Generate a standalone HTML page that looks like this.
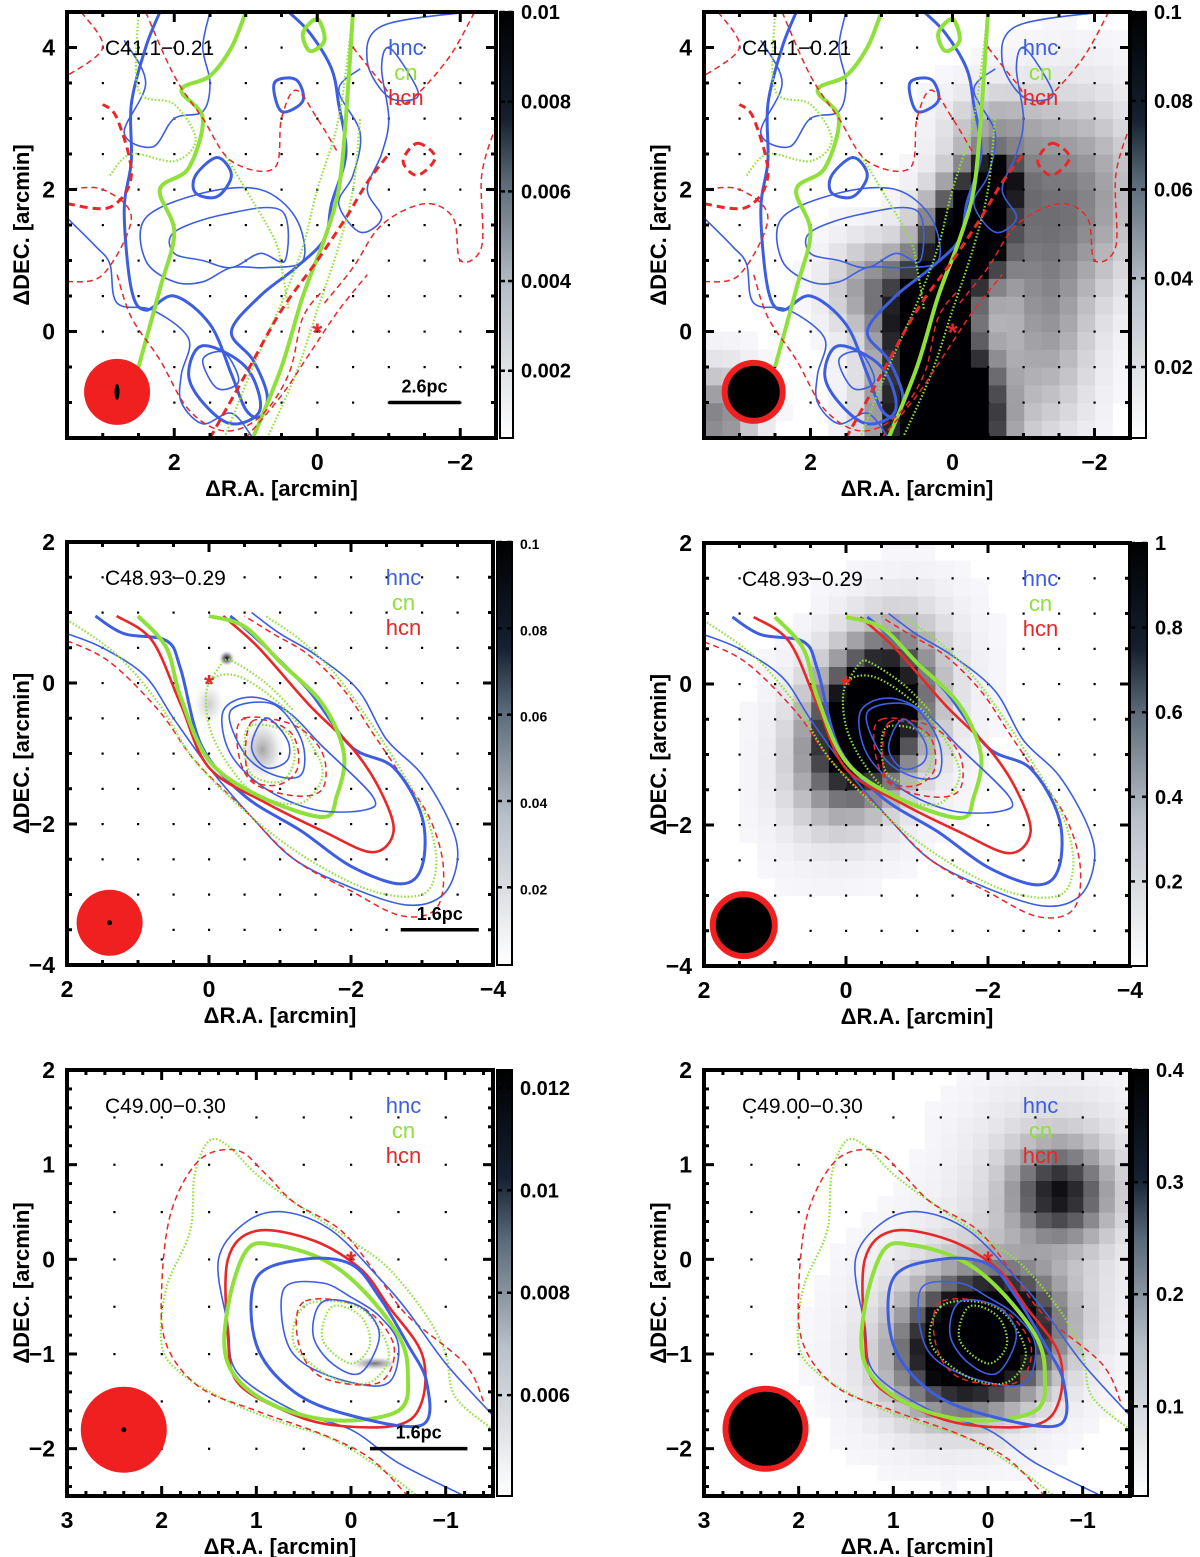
<!DOCTYPE html>
<html><head><meta charset="utf-8">
<style>
html,body{margin:0;padding:0;background:#fff;}
svg{display:block;font-family:"Liberation Sans",Arial,sans-serif;}
</style></head>
<body>
<svg id="fig" width="1200" height="1557" viewBox="0 0 1200 1557" xmlns="http://www.w3.org/2000/svg">
<defs>
<linearGradient id="cbgrad" x1="0" y1="1" x2="0" y2="0">
<stop offset="0" stop-color="#ffffff"/><stop offset="0.35" stop-color="#b8c0c8"/><stop offset="0.6" stop-color="#5a6a78"/><stop offset="0.75" stop-color="#142030"/><stop offset="1" stop-color="#000000"/>
</linearGradient>
<radialGradient id="blob"><stop offset="0" stop-color="#000" stop-opacity="1"/><stop offset="0.5" stop-color="#334" stop-opacity="0.45"/><stop offset="1" stop-color="#fff" stop-opacity="0"/></radialGradient>
</defs>
</svg>
<script>
// ---------- DATA ----------
const xTicksP1 = [2, 0, -2];
const yTicksP1 = [0, 2, 4];
const xTicksP2 = [2, 0, -2, -4];
const yTicksP2 = [-4, -2, 0, 2];
const xTicksP3 = [3, 2, 1, 0, -1];
const yTicksP3 = [-2, -1, 0, 1, 2];

const cbarLabelsP1L = [0.002, 0.004, 0.006, 0.008, 0.01];
const cbarLabelsP1R = [0.02, 0.04, 0.06, 0.08, 0.1];
const cbarLabelsP2L = [0.02, 0.04, 0.06, 0.08, 0.1];
const cbarLabelsP2R = [0.2, 0.4, 0.6, 0.8, 1];
const cbarLabelsP3L = [0.006, 0.008, 0.01, 0.012];
const cbarLabelsP3R = [0.1, 0.2, 0.3, 0.4];
const cbarRangeP1L = [0.0005, 0.01];
const cbarRangeP1R = [0.004, 0.1];
const cbarRangeP2L = [0.002, 0.1];
const cbarRangeP2R = [0.0, 1.0];
const cbarRangeP3L = [0.00403, 0.01235];
const cbarRangeP3R = [0.02, 0.4];

// gaussian components [cx, cy, sx, sy, theta, amp] (arcmin, map units)
const gaussP1R = [[0.15,-1.2,0.45,0.6,0,0.3],[0.35,0.1,0.35,0.5,0,0.2],[-0.2,1.3,0.35,0.5,0.3,0.2],[-0.55,2.1,0.25,0.25,0,0.12],[-1.6,1.9,0.6,0.8,0,0.04],[-1.3,0.3,0.4,1.0,0,0.03],[1.1,0.6,0.35,0.4,0,0.035],[3.3,-1.2,0.3,0.4,0,0.04],[-0.6,2.8,0.4,0.35,0,0.025]];
const gaussP2R = [[-0.3,-0.5,0.4,0.65,0.4,2.0],[-0.35,-0.6,0.6,0.9,0.4,0.2]];
const gaussP3R = [[0.1,-0.85,0.45,0.35,-0.5,0.9],[0.1,-0.7,0.65,0.55,-0.5,0.1],[-0.75,0.7,0.3,0.3,0,0.32],[-0.7,0.8,0.55,0.6,0,0.05]];
// smooth blobs [cx, cy, rx, ry, opacity]
const blobsP2L = [[-0.25,0.35,0.12,0.12,1],[-0.75,-0.95,0.35,0.5,0.35],[0.0,-0.3,0.25,0.35,0.2]];
const blobsP3L = [[-0.25,-1.1,0.3,0.08,0.55]];

// contours: style, closed, points (arcmin)
const contoursC41 = [
 ['b2',0,[[2.2,4.5],[2.4,4.0],[2.6,3.2],[2.6,2.4],[2.7,1.7],[2.6,0.6],[2.4,0.3],[2.0,0.5],[1.5,0.1],[1.2,-0.6],[1.0,-1.1],[0.8,-1.2],[0.7,-0.9],[0.9,-0.4],[1.2,0.0],[0.8,0.5],[0.3,0.9],[-0.1,1.3],[-0.2,1.8],[-0.4,2.5],[-0.3,3.2],[-0.2,3.7],[0.1,4.2],[0.4,4.5]]],
 ['b1',0,[[3.5,1.6],[3.1,1.2],[2.9,0.95],[2.8,0.4],[2.3,0.3],[1.8,-0.1],[1.9,-0.6],[1.9,-1.0],[1.6,-1.3],[1.2,-1.15],[0.9,-1.5]]],
 ['b1',1,[[2.4,1.6],[1.6,1.95],[0.8,2.0],[0.3,1.6],[0.2,1.0],[0.7,0.9],[1.2,0.9],[1.6,0.7],[2.0,0.7],[2.4,1.0]]],
 ['b1',1,[[2.0,1.4],[1.3,1.65],[0.5,1.7],[0.45,1.0],[0.8,1.1],[1.2,0.9],[1.6,1.0],[2.0,1.1]]],
 ['b2',1,[[1.7,2.2],[1.4,2.45],[1.2,2.2],[1.4,1.9],[1.7,1.95]]],
 ['b2',1,[[0.6,3.5],[0.3,3.55],[0.2,3.25],[0.5,3.1]]],
 ['b2',1,[[1.8,-0.6],[1.6,-0.2],[1.0,-0.5],[0.8,-1.1],[1.2,-1.3],[1.6,-1.0]]],
 ['b1',1,[[1.6,-0.4],[1.3,-0.3],[1.1,-0.7],[1.4,-0.8]]],
 ['b1',0,[[2.7,4.1],[2.4,3.5],[2.7,2.8],[2.3,2.6],[2.0,3.0],[1.6,3.1],[1.5,3.5],[1.6,4.0],[1.5,4.5]]],
 ['b1',0,[[-0.6,3.7],[-0.3,3.4],[-0.6,2.8],[-0.5,2.2],[-0.3,1.8],[-0.6,1.4],[-0.9,1.6],[-0.7,2.0],[-0.9,2.5],[-1.0,3.0],[-0.9,3.7],[-1.0,4.0],[-1.3,3.6],[-1.4,3.3],[-1.0,3.3],[-0.7,3.8],[-0.9,4.3],[-2.1,4.5]]],
 ['g2',0,[[0.9,-1.5],[0.5,-0.5],[0.2,0.5],[-0.1,1.3],[-0.3,2.0],[-0.4,3.0],[-0.5,4.5]]],
 ['g2',0,[[2.5,-0.5],[2.2,0.6],[2.0,1.4],[2.2,2.0],[1.8,2.3],[1.6,3.0],[1.9,3.4],[1.5,3.6],[1.2,4.0],[1.0,4.5]]],
 ['g2',1,[[0.2,4.2],[0.1,3.95],[-0.1,4.1],[0.0,4.4]]],
 ['g1',0,[[1.3,-1.5],[0.9,-0.5],[0.5,0.4],[0.2,1.2],[0.0,2.0],[-0.3,3.0],[-0.5,4.5]]],
 ['g1',0,[[2.9,2.2],[2.6,2.5],[2.0,2.4],[1.7,2.7],[2.0,3.2],[2.5,3.4],[2.5,4.5]]],
 ['g1',0,[[1.3,2.5],[1.0,2.0],[0.6,1.3],[0.5,0.9],[0.4,0.3]]],
 ['g1',0,[[0.7,-1.5],[0.3,-0.6],[0.0,0.3],[-0.3,1.2],[-0.5,2.0],[-0.6,3.0]]],
 ['r2',0,[[1.5,-1.5],[1.0,-0.6],[0.5,0.3],[0.0,1.0],[-0.4,1.6],[-0.7,2.1],[-1.0,2.5]]],
 ['r2',1,[[-1.4,2.65],[-1.65,2.45],[-1.4,2.2],[-1.2,2.4]]],
 ['r1',0,[[3.5,0.7],[3.0,0.8],[2.6,1.6],[3.0,2.0],[3.5,2.0]]],
 ['r1',0,[[-0.1,0.4],[-0.5,0.9],[-0.9,1.5],[-1.5,1.8],[-1.9,1.6],[-2.0,1.0],[-2.3,1.2],[-2.3,2.2],[-2.5,2.9]]],
 ['r1',0,[[-0.5,4.0],[-0.9,3.5],[-1.2,3.2],[-1.8,3.8],[-2.2,4.5]]],
 ['r1',0,[[2.8,0.8],[2.6,0.2],[2.2,-0.4],[1.8,-1.1],[1.3,-1.4],[0.8,-1.2],[0.4,-0.6],[0.2,0.2],[-0.1,0.6]]],
 ['r2',0,[[3.5,1.8],[2.9,1.75],[2.6,2.2],[2.8,3.0],[3.0,3.2]]],
 ['r1',0,[[2.4,4.5],[2.0,3.6],[1.6,3.0],[1.2,2.4],[0.6,2.3],[0.5,3.0],[0.3,3.4],[0.0,3.0],[-0.3,2.5]]],
 ['r1',0,[[3.3,4.5],[3.0,4.0],[3.5,3.6]]],
 ['r1',0,[[1.0,-1.5],[0.5,-0.9],[0.1,-0.3],[-0.3,0.3],[-0.7,0.8]]]
];
const contoursC48 = [
 ['b1',0,[[2.0,0.7],[1.5,0.5],[0.9,0.1],[0.5,-0.5],[0.0,-1.2],[-0.6,-1.9],[-1.2,-2.5],[-2.0,-2.9],[-2.8,-3.15],[-3.3,-3.0],[-3.5,-2.5],[-3.4,-2.0],[-3.0,-1.3],[-2.5,-0.8],[-2.1,-0.1],[-1.5,0.4],[-1.0,0.7],[-0.6,1.0]]],
 ['r1',0,[[2.0,0.6],[1.4,0.3],[0.7,-0.4],[0.2,-1.1],[-0.5,-1.8],[-1.2,-2.5],[-2.0,-2.95],[-2.7,-3.3],[-3.2,-3.2],[-3.3,-2.6],[-3.1,-1.9],[-2.7,-1.3],[-2.3,-0.7],[-1.9,-0.1],[-1.4,0.4],[-0.9,0.7],[-0.5,0.95]]],
 ['g1',0,[[2.0,0.9],[1.3,0.4],[0.7,-0.3],[0.2,-1.1],[-0.6,-1.9],[-1.4,-2.5],[-2.3,-2.95],[-3.0,-3.0],[-3.2,-2.6],[-3.1,-2.0],[-2.8,-1.4],[-2.3,-0.6],[-1.8,0.1],[-1.3,0.6],[-0.8,0.95]]],
 ['b2',0,[[1.6,0.95],[1.2,0.7],[0.6,0.6],[0.4,0.2],[0.1,-0.9],[-0.5,-1.6],[-1.3,-2.1],[-2.0,-2.6],[-2.7,-2.85],[-3.0,-2.6],[-3.0,-1.9],[-2.6,-1.2],[-2.0,-0.9],[-1.4,-0.1],[-0.7,0.6],[-0.3,0.95]]],
 ['rs',0,[[1.3,0.95],[0.8,0.6],[0.4,-0.3],[0.0,-1.2],[-0.8,-1.7],[-1.6,-2.1],[-2.3,-2.4],[-2.6,-2.1],[-2.4,-1.5],[-2.0,-0.9],[-1.4,-0.3],[-0.7,0.5],[-0.2,0.95]]],
 ['g2',0,[[1.0,0.95],[0.6,0.5],[0.4,-0.2],[0.0,-1.1],[-0.7,-1.6],[-1.6,-1.9],[-1.8,-1.6],[-1.9,-1.0],[-1.6,-0.3],[-1.0,0.3],[-0.5,0.8],[0.0,0.95]]],
 ['b1',1,[[-0.2,-0.4],[-0.6,-0.2],[-1.1,-0.4],[-1.6,-0.9],[-2.3,-1.6],[-2.2,-1.8],[-1.5,-1.8],[-0.8,-1.5],[-0.3,-1.0]]],
 ['g1',1,[[0.0,0.0],[-0.4,0.1],[-1.0,-0.3],[-1.4,-0.8],[-1.6,-1.3],[-1.3,-1.7],[-0.7,-1.6],[-0.3,-1.2],[0.0,-0.6]]],
 ['r1',1,[[-0.5,-0.5],[-1.2,-0.6],[-1.6,-1.0],[-1.6,-1.5],[-1.2,-1.6],[-0.6,-1.4],[-0.4,-0.9]]],
 ['b1',1,[[-0.3,-0.4],[-0.9,-0.3],[-1.3,-0.8],[-1.3,-1.3],[-0.9,-1.3],[-0.5,-1.0]]],
 ['g1',1,[[-0.6,-0.6],[-1.1,-0.7],[-1.2,-1.1],[-1.0,-1.4],[-0.6,-1.3],[-0.5,-0.9]]],
 ['r1',1,[[-0.6,-0.55],[-1.15,-0.7],[-1.25,-1.2],[-0.95,-1.45],[-0.55,-1.3]]],
 ['b1',1,[[-0.8,-0.5],[-1.1,-0.8],[-1.1,-1.1],[-0.8,-1.2],[-0.6,-0.9]]],
 ['g1',0,[[0.0,0.0],[-0.2,0.3],[-0.35,0.3],[-0.8,0.0],[-1.2,-0.4]]]
];
const contoursC49 = [
 ['g1',0,[[-1.5,-1.8],[-1.1,-1.45],[-1.0,-1.0],[-0.8,-0.6],[-0.4,-0.1],[0.0,0.2],[0.6,0.6],[1.0,0.9],[1.3,1.2],[1.5,1.25],[1.65,0.9],[1.7,0.3],[1.95,-0.3],[2.0,-0.9],[1.8,-1.2],[1.3,-1.5],[0.8,-1.7],[0.2,-1.9],[-0.3,-2.2],[-0.7,-2.5]]],
 ['r1',0,[[-1.4,-1.5],[-1.2,-1.1],[-0.6,-0.6],[-0.3,-0.2],[0.1,0.3],[0.6,0.6],[0.9,0.9],[1.2,1.15],[1.6,1.05],[1.9,0.5],[2.0,-0.3],[1.95,-0.9],[1.6,-1.35],[1.0,-1.6],[0.3,-1.85],[-0.2,-2.1],[-0.6,-2.5]]],
 ['b1',0,[[-1.5,-1.65],[-1.0,-1.1],[-0.6,-0.55],[-0.3,-0.2],[0.2,0.3],[0.7,0.5],[1.1,0.4],[1.4,0.0],[1.3,-0.7],[1.2,-1.2],[0.6,-1.6],[0.0,-1.8],[-0.5,-2.15],[-1.2,-2.5]]],
 ['rs',1,[[1.0,0.3],[1.3,0.0],[1.3,-0.8],[1.2,-1.3],[0.7,-1.6],[0.2,-1.75],[-0.5,-1.75],[-0.75,-1.5],[-0.75,-1.0],[-0.4,-0.5],[-0.1,-0.1],[0.4,0.2]]],
 ['g2',1,[[1.1,0.1],[1.3,-0.5],[1.3,-1.1],[0.9,-1.5],[0.2,-1.7],[-0.5,-1.6],[-0.6,-1.2],[-0.5,-0.8],[-0.1,-0.3],[0.3,0.0],[0.8,0.15]]],
 ['b2',1,[[1.0,-0.2],[1.0,-0.9],[0.6,-1.4],[0.0,-1.65],[-0.75,-1.75],[-0.8,-1.3],[-0.6,-0.9],[-0.3,-0.4],[0.0,-0.05],[0.5,0.0]]],
 ['b1',1,[[0.7,-0.3],[0.7,-0.8],[0.5,-1.1],[0.0,-1.3],[-0.4,-1.3],[-0.5,-0.9],[-0.3,-0.6],[0.0,-0.4],[0.3,-0.25]]],
 ['g1',1,[[0.5,-0.5],[0.6,-0.9],[0.2,-1.25],[-0.2,-1.3],[-0.4,-1.0],[-0.2,-0.6],[0.1,-0.45]]],
 ['r1',1,[[0.5,-0.45],[0.55,-0.9],[0.3,-1.25],[-0.3,-1.3],[-0.45,-0.9],[-0.1,-0.5]]],
 ['b1',1,[[0.3,-0.45],[0.4,-0.8],[0.2,-1.1],[-0.1,-1.2],[-0.3,-0.8],[-0.1,-0.5]]],
 ['g1',1,[[0.2,-0.5],[0.3,-0.85],[0.0,-1.1],[-0.2,-0.9],[-0.1,-0.6]]]
];

// ---------- LAYOUT ----------
const panels = [
 {id:'c41-left', name:'C41.1\u22120.21', x0:67,y0:12,w:429,h:426, xr:[3.5,-2.5], yr:[-1.5,4.5], xt:xTicksP1, yt:yTicksP1, minor:0.5, cont:contoursC41, cb:[500,13], cbl:cbarLabelsP1L, cbr:cbarRangeP1L, cbf:20, pix:null, blobs:null, beam:[2.8,-0.85,33,'L'], bar:[-1.0,-2.0,-1.0,'2.6pc']},
 {id:'c41-right', name:'C41.1\u22120.21', x0:704,y0:12,w:426,h:426, xr:[3.5,-2.5], yr:[-1.5,4.5], xt:xTicksP1, yt:yTicksP1, minor:0.5, cont:contoursC41, cb:[1131,15], cbl:cbarLabelsP1R, cbr:cbarRangeP1R, cbf:20, pix:[gaussP1R,0.25,0.1], blobs:null, beam:[2.8,-0.85,32,'R'], bar:null},
 {id:'c48-left', name:'C48.93\u22120.29', x0:67,y0:542,w:426,h:423, xr:[2,-4], yr:[-4,2], xt:xTicksP2, yt:yTicksP2, minor:0.5, cont:contoursC48, cb:[497,15], cbl:cbarLabelsP2L, cbr:cbarRangeP2L, cbf:14, pix:null, blobs:blobsP2L, beam:[1.4,-3.4,33,'L'], bar:[-2.7,-3.8,-3.5,'1.6pc']},
 {id:'c48-right', name:'C48.93\u22120.29', x0:704,y0:543,w:426,h:423, xr:[2,-4], yr:[-4,2], xt:xTicksP2, yt:yTicksP2, minor:0.5, cont:contoursC48, cb:[1130,17], cbl:cbarLabelsP2R, cbr:cbarRangeP2R, cbf:20, pix:[gaussP2R,0.25,1.0], blobs:null, beam:[1.44,-3.42,34,'R'], bar:null},
 {id:'c49-left', name:'C49.00\u22120.30', x0:67,y0:1070,w:426,h:426, xr:[3,-1.5], yr:[-2.5,2], xt:xTicksP3, yt:yTicksP3, minor:0.2, cont:contoursC49, cb:[497,15], cbl:cbarLabelsP3L, cbr:cbarRangeP3L, cbf:20, pix:null, blobs:blobsP3L, beam:[2.4,-1.8,43,'L'], bar:[-0.2,-1.23,-2.0,'1.6pc']},
 {id:'c49-right', name:'C49.00\u22120.30', x0:704,y0:1070,w:426,h:426, xr:[3,-1.5], yr:[-2.5,2], xt:xTicksP3, yt:yTicksP3, minor:0.2, cont:contoursC49, cb:[1133,15], cbl:cbarLabelsP3R, cbr:cbarRangeP3R, cbf:20, pix:[gaussP3R,0.1667,0.4], blobs:null, beam:[2.35,-1.79,43,'R'], bar:null}
];

const NS = 'http://www.w3.org/2000/svg';
const svg = document.getElementById('fig');
function mk(tag, attrs, parent){ const e=document.createElementNS(NS,tag); for(const k in attrs) e.setAttribute(k,attrs[k]); (parent||svg).appendChild(e); return e; }
const STY = {
 b1:{stroke:'#3d5ee0','stroke-width':1.6,fill:'none'},
 b2:{stroke:'#3d5ee0','stroke-width':3,fill:'none'},
 g1:{stroke:'#8fe03a','stroke-width':2.2,fill:'none','stroke-dasharray':'1.5 2'},
 g2:{stroke:'#8fe03a','stroke-width':4,fill:'none'},
 r1:{stroke:'#e82828','stroke-width':1.5,fill:'none','stroke-dasharray':'6 4'},
 r2:{stroke:'#e82828','stroke-width':3,fill:'none','stroke-dasharray':'8 5'},
 rs:{stroke:'#e82828','stroke-width':2.6,fill:'none'}
};
function smoothPath(pts, closed){
 const n=pts.length; let d='M'+pts[0][0].toFixed(1)+','+pts[0][1].toFixed(1);
 const g=i=> closed ? pts[(i+n)%n] : pts[Math.max(0,Math.min(n-1,i))];
 const segs = closed ? n : n-1;
 for(let i=0;i<segs;i++){
  const p0=g(i-1),p1=g(i),p2=g(i+1),p3=g(i+2);
  const c1=[p1[0]+(p2[0]-p0[0])/6, p1[1]+(p2[1]-p0[1])/6];
  const c2=[p2[0]-(p3[0]-p1[0])/6, p2[1]-(p3[1]-p1[1])/6];
  d+=' C'+c1[0].toFixed(1)+','+c1[1].toFixed(1)+' '+c2[0].toFixed(1)+','+c2[1].toFixed(1)+' '+p2[0].toFixed(1)+','+p2[1].toFixed(1);
 }
 return closed? d+'Z' : d;
}
function fmt(v){ return String(v).replace('-', '\u2212'); }

panels.forEach((p, pi)=>{
 const X=v=>p.x0+(p.xr[0]-v)/(p.xr[0]-p.xr[1])*p.w;
 const Y=v=>p.y0+(p.yr[1]-v)/(p.yr[1]-p.yr[0])*p.h;
 const g = mk('g',{});
 
 
 const cp = mk('clipPath',{id:'clip'+pi}, g);
 mk('rect',{x:p.x0,y:p.y0,width:p.w,height:p.h}, cp);
 const inner = mk('g',{'clip-path':'url(#clip'+pi+')'}, g);

 if(p.pix){
  const [comps, step, vmax] = p.pix;
  const img = mk('g',{}, inner);
  
  
  const dx = Math.abs(X(step)-X(0)), dy=Math.abs(Y(step)-Y(0));
  for(let xv=p.xr[1]; xv<p.xr[0]; xv+=step){
   for(let yv=p.yr[0]; yv<p.yr[1]; yv+=step){
    const cx=xv+step/2, cy=yv+step/2; let v=0;
    comps.forEach(c=>{ const ct=Math.cos(c[4]), st=Math.sin(c[4]); const u=((cx-c[0])*ct+(cy-c[1])*st)/c[2]; const w=(-(cx-c[0])*st+(cy-c[1])*ct)/c[3]; v+=c[5]*Math.exp(-0.5*(u*u+w*w)); });
    const t=Math.min(1, v/vmax); const gr=Math.round(250*(1-Math.pow(t,0.8)));
    if(gr>=248) continue;
    mk('rect',{x:(X(xv+step)).toFixed(1), y:(Y(yv+step)).toFixed(1), width:(dx+0.6).toFixed(1), height:(dy+0.6).toFixed(1), fill:'rgb('+gr+','+gr+','+Math.min(255,gr+4)+')'}, img);
   }
  }
 }
 if(p.blobs){
  p.blobs.forEach(b=>{
   const e = mk('ellipse',{cx:X(b[0]),cy:Y(b[1]),rx:Math.abs(X(b[2])-X(0)),ry:Math.abs(Y(b[3])-Y(0)),fill:'url(#blob)',opacity:b[4]}, inner);
   
   
  });
 }
 const dots = mk('g',{fill:'#000'}, inner);
 
 
 for(let xv=Math.ceil(p.xr[1]*2)/2; xv<=p.xr[0]; xv+=0.5){
  for(let yv=Math.ceil(p.yr[0]*2)/2; yv<=p.yr[1]; yv+=0.5){
   mk('rect',{x:X(xv)-1,y:Y(yv)-1,width:2.2,height:2.2}, dots);
  }
 }
 p.cont.forEach(c=>{
  const pts=c[2].map(q=>[X(q[0]),Y(q[1])]);
  const path = mk('path', Object.assign({d:smoothPath(pts, !!c[1]),'stroke-linejoin':'round'}, STY[c[0]]), inner);
  
  
 });
 const star = mk('text',{x:X(0),y:Y(0)+10,'text-anchor':'middle','font-size':26,fill:'#e82828','font-weight':'bold'}, inner);
 star.textContent='*';
 
 
 const [bx,by,br,bt]=p.beam;
 const beam = mk('g',{}, inner);
 
 
 if(bt==='L'){
  mk('circle',{cx:X(bx),cy:Y(by),r:br,fill:'#f02020'}, beam);
  if(pi===0) mk('ellipse',{cx:X(bx),cy:Y(by),rx:2.5,ry:8,fill:'#000'}, beam);
  else mk('circle',{cx:X(bx),cy:Y(by),r:2.5,fill:'#000'}, beam);
 } else {
  mk('circle',{cx:X(bx),cy:Y(by),r:br-3,fill:'#000',stroke:'#f02020','stroke-width':6}, beam);
 }
 if(p.bar){
  const sb = mk('g',{}, inner);
  
  
  mk('line',{x1:X(p.bar[0]),x2:X(p.bar[1]),y1:Y(p.bar[2]),y2:Y(p.bar[2]),stroke:'#000','stroke-width':3.5}, sb);
  const t = mk('text',{x:(X(p.bar[0])+X(p.bar[1]))/2,y:Y(p.bar[2])-10,'text-anchor':'middle','font-size':18,'font-weight':'bold'}, sb);
  t.textContent=p.bar[3];
 }
 const ttl = mk('text',{x:p.x0+38,y:p.y0+43,'font-size':21}, g);
 ttl.textContent=p.name;
 
 
 const legX = p.x0 + p.w*0.79;
 [['hnc','#3d5ee0',0],['cn','#8fe03a',1],['hcn','#e82828',2]].forEach(L=>{
  const t = mk('text',{x:legX,y:p.y0+43+L[2]*25,'font-size':22,fill:L[1],'text-anchor':'middle'}, g);
  t.textContent=L[0];
  
  
 });
 const fr = mk('rect',{x:p.x0,y:p.y0,width:p.w,height:p.h,fill:'none',stroke:'#000','stroke-width':4}, g);
 
 
 const tk = mk('g',{stroke:'#000','stroke-width':3}, g);
 
 
 const isMaj=(v,arr)=>arr.some(a=>Math.abs(a-v)<1e-6);
 for(let xv=Math.ceil(p.xr[1]/p.minor)*p.minor; xv<=p.xr[0]+1e-9; xv+=p.minor){
  const L=isMaj(xv,p.xt)?10:5, xx=X(xv);
  mk('line',{x1:xx,x2:xx,y1:p.y0+p.h,y2:p.y0+p.h-L}, tk);
  mk('line',{x1:xx,x2:xx,y1:p.y0,y2:p.y0+L}, tk);
 }
 for(let yv=Math.ceil(p.yr[0]/p.minor)*p.minor; yv<=p.yr[1]+1e-9; yv+=p.minor){
  const L=isMaj(yv,p.yt)?10:5, yy=Y(yv);
  mk('line',{x1:p.x0,x2:p.x0+L,y1:yy,y2:yy}, tk);
  mk('line',{x1:p.x0+p.w,x2:p.x0+p.w-L,y1:yy,y2:yy}, tk);
 }
 p.xt.forEach(v=>{
  const t=mk('text',{x:X(v),y:p.y0+p.h+32,'text-anchor':'middle','font-size':23,'font-weight':'bold'}, g);
  t.textContent=fmt(v);
  
  
 });
 p.yt.forEach(v=>{
  const t=mk('text',{x:p.x0-12,y:Y(v)+8,'text-anchor':'end','font-size':23,'font-weight':'bold'}, g);
  t.textContent=fmt(v);
  
  
 });
 const xl=mk('text',{x:p.x0+p.w/2,y:p.y0+p.h+58,'text-anchor':'middle','font-size':22,'font-weight':'bold'}, g);
 xl.textContent='\u0394R.A. [arcmin]';
 
 
 const yx=p.x0-38, yy=p.y0+p.h/2;
 const yl=mk('text',{x:yx,y:yy,'text-anchor':'middle','font-size':22,'font-weight':'bold',transform:'rotate(-90 '+yx+' '+yy+')'}, g);
 yl.textContent='\u0394DEC. [arcmin]';
 
 
 const cbg = mk('g',{}, g);
 
 
 const [cbx,cbw]=p.cb;
 mk('rect',{x:cbx,y:p.y0,width:cbw,height:p.h,fill:'url(#cbgrad)',stroke:'#000','stroke-width':2}, cbg);
 const [vmin,vmax]=p.cbr;
 const CY=v=>p.y0+p.h-(v-vmin)/(vmax-vmin)*p.h;
 p.cbl.forEach(v=>{
  const yy2=CY(v);
  mk('line',{x1:cbx,x2:cbx+5,y1:yy2,y2:yy2,stroke:'#000','stroke-width':2.5}, cbg);
  mk('line',{x1:cbx+cbw,x2:cbx+cbw-5,y1:yy2,y2:yy2,stroke:'#000','stroke-width':2.5}, cbg);
  const t=mk('text',{x:cbx+cbw+8,y:yy2+7,'font-size':p.cbf,'font-weight':'bold'}, cbg);
  t.textContent=String(v);
  
  
 });
});
</script>
</body></html>
